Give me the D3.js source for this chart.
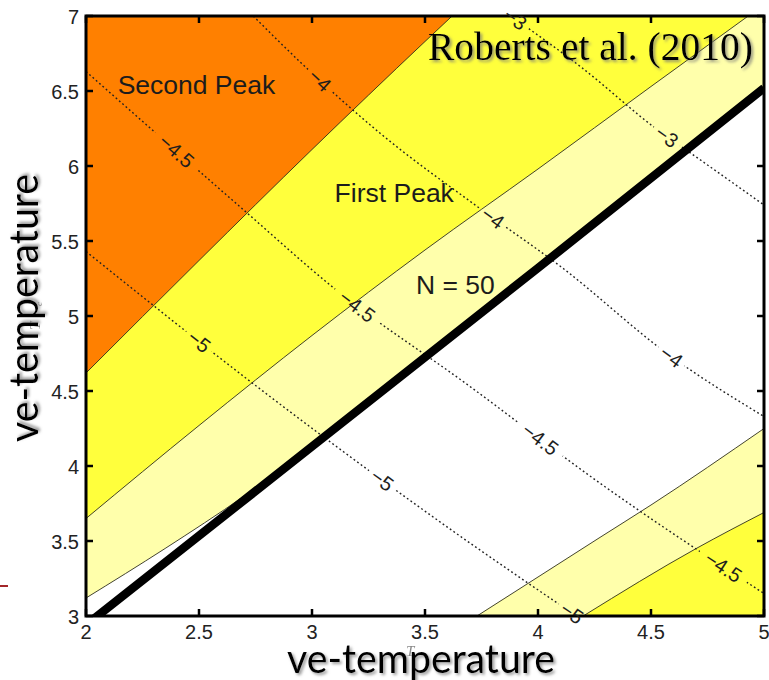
<!DOCTYPE html>
<html><head><meta charset="utf-8">
<script src="https://cdn.jsdelivr.net/npm/d3@7"></script>
<style>
  body { margin: 0; background: #fff; }
  svg { display: block; }
</style>
</head><body>
<svg id="chart" width="769" height="680"></svg>
<script>
// ---- axis ticks ----
const xTicks = [2, 2.5, 3, 3.5, 4, 4.5, 5];
const yTicks = [3, 3.5, 4, 4.5, 5, 5.5, 6, 6.5, 7];
const xTickLabels = ["2", "2.5", "3", "3.5", "4", "4.5", "5"];
const yTickLabels = ["3", "3.5", "4", "4.5", "5", "5.5", "6", "6.5", "7"];

// ---- filled region boundaries, [x, y] in axis units ----
const secondPeakEdge = [[2, 4.62], [2.5, 5.37], [3, 6.11], [3.5, 6.83], [3.62, 7.0]];
const firstPeakEdge = [[2, 3.65], [2.5, 4.27], [3, 4.87], [3.5, 5.44], [4, 5.98], [4.5, 6.53], [4.93, 7.0]];
const paleBandEdge = [[2, 3.12], [2.35, 3.45], [2.7, 3.80], [3.5, 4.74], [4.5, 5.93], [5, 6.53]];
const lowerPaleEdge = [[3.73, 3.0], [4.27, 3.52], [4.5, 3.74], [5, 4.25]];
const lowerYellowEdge = [[4.2, 3.0], [4.7, 3.45], [5, 3.69]];
const n50Line = [[2, 2.94], [3, 4.13], [4, 5.32], [5, 6.52]];

// ---- dotted contours ----
const contourM3 = [[3.88, 7.0], [4.19, 6.66], [4.53, 6.24], [4.70, 6.06], [5, 5.74]];
const contourM4 = [[2.74, 7.0], [2.95, 6.69], [3.30, 6.22], [3.74, 5.72], [4.10, 5.33], [4.58, 4.74], [5, 4.33]];
const contourM45 = [[2, 6.63], [2.68, 5.73], [3.11, 5.17], [3.69, 4.54], [4.27, 3.89], [5, 3.15]];
const contourM5 = [[2, 5.43], [2.73, 4.56], [3.09, 4.15], [3.62, 3.57], [4.17, 3.0]];
const contourLevels = ["\u22123", "\u22124", "\u22124.5", "\u22125"];
const contourLabelX = [[3.90, 4.57], [3.035, 3.80, 4.59], [2.40, 3.20, 4.01, 4.82], [2.50, 3.31, 4.15]];

// ---- annotations ----
const regionNames = ["Second Peak", "First Peak", "N = 50"];
const regionNameAt = [[2.14, 6.48], [3.1, 5.76], [3.46, 5.15]];
const axisTitle = "ve-temperature";
const citation = "Roberts et al. (2010)";

const colors = { orange: "#ff8000", yellow: "#ffff3c", pale: "#ffffab" };

const svg = d3.select("#chart");
const W = 769, H = 680;
const margin = { left: 86, top: 16, right: W - 764, bottom: H - 616 };
const x = d3.scaleLinear().domain([2, 5]).range([margin.left, W - margin.right]);
const y = d3.scaleLinear().domain([3, 7]).range([H - margin.bottom, margin.top]);
const [x0, x1] = x.range();
const [y0, y1] = y.range();

const defs = svg.append("defs");
defs.append("clipPath").attr("id", "plot-clip")
  .append("rect").attr("x", x0).attr("y", y1).attr("width", x1 - x0).attr("height", y0 - y1);
const shadow = defs.append("filter").attr("id", "shadow")
  .attr("x", "-10%").attr("y", "-20%").attr("width", "130%").attr("height", "160%");
shadow.append("feDropShadow").attr("dx", 2).attr("dy", 2).attr("stdDeviation", 1.6)
  .attr("flood-color", "#777").attr("flood-opacity", 0.75);

const edge = d3.line().x(d => x(d[0])).y(d => y(d[1])).curve(d3.curveMonotoneX);
const corners = pts => pts.map(p => `L${x(p[0])},${y(p[1])}`).join("") + "Z";

// ---- filled regions ----
const plot = svg.append("g").attr("clip-path", "url(#plot-clip)");
plot.append("rect").attr("x", x0).attr("y", y1).attr("width", x1 - x0).attr("height", y0 - y1).attr("fill", "#fff");
const fills = [
  { d: edge(paleBandEdge) + corners([[5, 7], [2, 7]]), c: colors.pale },
  { d: edge(firstPeakEdge) + corners([[2, 7]]), c: colors.yellow },
  { d: edge(secondPeakEdge) + corners([[2, 7]]), c: colors.orange },
  { d: edge(lowerPaleEdge) + corners([[5, 3]]), c: colors.pale },
  { d: edge(lowerYellowEdge) + corners([[5, 3]]), c: colors.yellow }
];
plot.selectAll("path.region").data(fills).join("path")
  .attr("class", "region").attr("d", d => d.d).attr("fill", d => d.c);

plot.selectAll("path.edge")
  .data([secondPeakEdge, firstPeakEdge, paleBandEdge, lowerPaleEdge, lowerYellowEdge])
  .join("path").attr("class", "edge")
  .attr("d", edge).attr("fill", "none").attr("stroke", "#2f2f1c").attr("stroke-width", 0.9);

// ---- dotted contours with gaps for inline labels ----
const labelSize = 20;
const contours = [contourM3, contourM4, contourM45, contourM5];
const tmp = svg.append("g");
const labels = [];
contours.forEach((pts, i) => {
  const p = tmp.append("path").attr("d", edge(pts)).node();
  const len = p.getTotalLength();
  contourLabelX[i].forEach(lx => {
    const tx = x(lx);
    let lo = 0, hi = len;
    for (let k = 0; k < 40; k++) {
      const mid = (lo + hi) / 2;
      if (p.getPointAtLength(mid).x < tx) lo = mid; else hi = mid;
    }
    const at = p.getPointAtLength(lo);
    const a = p.getPointAtLength(Math.max(0, lo - 4));
    const b = p.getPointAtLength(Math.min(len, lo + 4));
    const ang = Math.atan2(b.y - a.y, b.x - a.x) * 180 / Math.PI;
    labels.push({ x: at.x, y: at.y, ang, text: contourLevels[i] });
  });
});
tmp.remove();

const mask = defs.append("mask").attr("id", "label-gaps").attr("maskUnits", "userSpaceOnUse")
  .attr("x", 0).attr("y", 0).attr("width", W).attr("height", H);
mask.append("rect").attr("width", W).attr("height", H).attr("fill", "#fff");
mask.selectAll("rect.gap").data(labels).join("rect").attr("class", "gap")
  .attr("x", d => -(d.text.length * 6 + 4)).attr("y", -9)
  .attr("width", d => 2 * (d.text.length * 6 + 4)).attr("height", 18)
  .attr("transform", d => `translate(${d.x},${d.y}) rotate(${d.ang})`)
  .attr("fill", "#000");

plot.append("g").attr("mask", "url(#label-gaps)")
  .selectAll("path").data(contours).join("path")
  .attr("d", edge).attr("fill", "none")
  .attr("stroke", "#222").attr("stroke-width", 1.4)
  .attr("stroke-dasharray", "1.8,2.6");

// ---- N = 50 curve ----
plot.append("path").attr("d", d3.line().x(d => x(d[0])).y(d => y(d[1]))(n50Line))
  .attr("fill", "none").attr("stroke", "#000").attr("stroke-width", 8.5);

// ---- axes box with inward ticks ----
const tickFont = "'Liberation Sans', Arial, Helvetica, sans-serif";
const frame = svg.append("g");
const tickLen = 7;
xTicks.forEach(t => {
  frame.append("line").attr("x1", x(t)).attr("x2", x(t)).attr("y1", y0).attr("y2", y0 - tickLen)
    .attr("stroke", "#000").attr("stroke-width", 2.5);
  frame.append("line").attr("x1", x(t)).attr("x2", x(t)).attr("y1", y1).attr("y2", y1 + tickLen)
    .attr("stroke", "#000").attr("stroke-width", 2.5);
});
yTicks.forEach(t => {
  frame.append("line").attr("x1", x0).attr("x2", x0 + tickLen).attr("y1", y(t)).attr("y2", y(t))
    .attr("stroke", "#000").attr("stroke-width", 2.5);
  frame.append("line").attr("x1", x1).attr("x2", x1 - tickLen).attr("y1", y(t)).attr("y2", y(t))
    .attr("stroke", "#000").attr("stroke-width", 2.5);
});
frame.append("rect").attr("x", x0).attr("y", y1).attr("width", x1 - x0).attr("height", y0 - y1)
  .attr("fill", "none").attr("stroke", "#000").attr("stroke-width", 3);

svg.append("g").selectAll("text").data(xTicks).join("text")
  .attr("x", d => x(d)).attr("y", y0 + 23).attr("text-anchor", "middle")
  .attr("font-family", tickFont).attr("font-size", 20).attr("fill", "#222")
  .text((d, i) => xTickLabels[i]);
svg.append("g").selectAll("text").data(yTicks).join("text")
  .attr("x", x0 - 7).attr("y", d => y(d) + 8).attr("text-anchor", "end")
  .attr("font-family", tickFont).attr("font-size", 20).attr("fill", "#222")
  .text((d, i) => yTickLabels[i]);

// ---- contour labels ----
svg.append("g").selectAll("text").data(labels).join("text")
  .attr("transform", d => `translate(${d.x},${d.y}) rotate(${d.ang})`)
  .attr("text-anchor", "middle").attr("dy", "0.35em")
  .attr("font-family", tickFont).attr("font-size", labelSize).attr("fill", "#1e1e1e")
  .text(d => d.text);

// ---- region names ----
svg.append("g").selectAll("text").data(regionNames).join("text")
  .attr("x", (d, i) => x(regionNameAt[i][0])).attr("y", (d, i) => y(regionNameAt[i][1]))
  .attr("font-family", tickFont).attr("font-size", 26.5).attr("fill", "#1c1c1c")
  .text(d => d);

// ---- citation ----
svg.append("text").attr("x", 428).attr("y", 60)
  .attr("font-family", "'Liberation Serif', 'Times New Roman', serif").attr("font-size", 41)
  .attr("textLength", 325).attr("lengthAdjust", "spacingAndGlyphs")
  .attr("fill", "#000").attr("filter", "url(#shadow)")
  .text(citation);

// ---- faint original axis symbols ----
const ghost = svg.append("g").attr("fill", "#555").attr("opacity", 0.7)
  .attr("font-family", "'Liberation Serif', serif").attr("font-style", "italic");
ghost.append("text").attr("x", 406).attr("y", 656).attr("font-size", 15).text("T");
ghost.append("text").attr("transform", "translate(40,330) rotate(-90)").attr("font-size", 15).text("T");
ghost.append("text").attr("transform", "translate(42,306) rotate(-90)").attr("font-size", 9).text("c");

// ---- axis titles ----
const titleFont = "Lato, 'Open Sans', sans-serif";
svg.append("text").attr("x", 287).attr("y", 673)
  .attr("font-family", titleFont).attr("font-size", 41)
  .attr("textLength", 268).attr("lengthAdjust", "spacingAndGlyphs")
  .attr("fill", "#000").attr("filter", "url(#shadow)")
  .text(axisTitle);
svg.append("text").attr("transform", "translate(38,442) rotate(-90)")
  .attr("font-family", titleFont).attr("font-size", 41)
  .attr("textLength", 268).attr("lengthAdjust", "spacingAndGlyphs")
  .attr("fill", "#000").attr("filter", "url(#shadow)")
  .text(axisTitle);

// slide accent mark
svg.append("line").attr("x1", 0).attr("x2", 8).attr("y1", 586).attr("y2", 586)
  .attr("stroke", "#a3262a").attr("stroke-width", 2);
</script>
</body></html>
